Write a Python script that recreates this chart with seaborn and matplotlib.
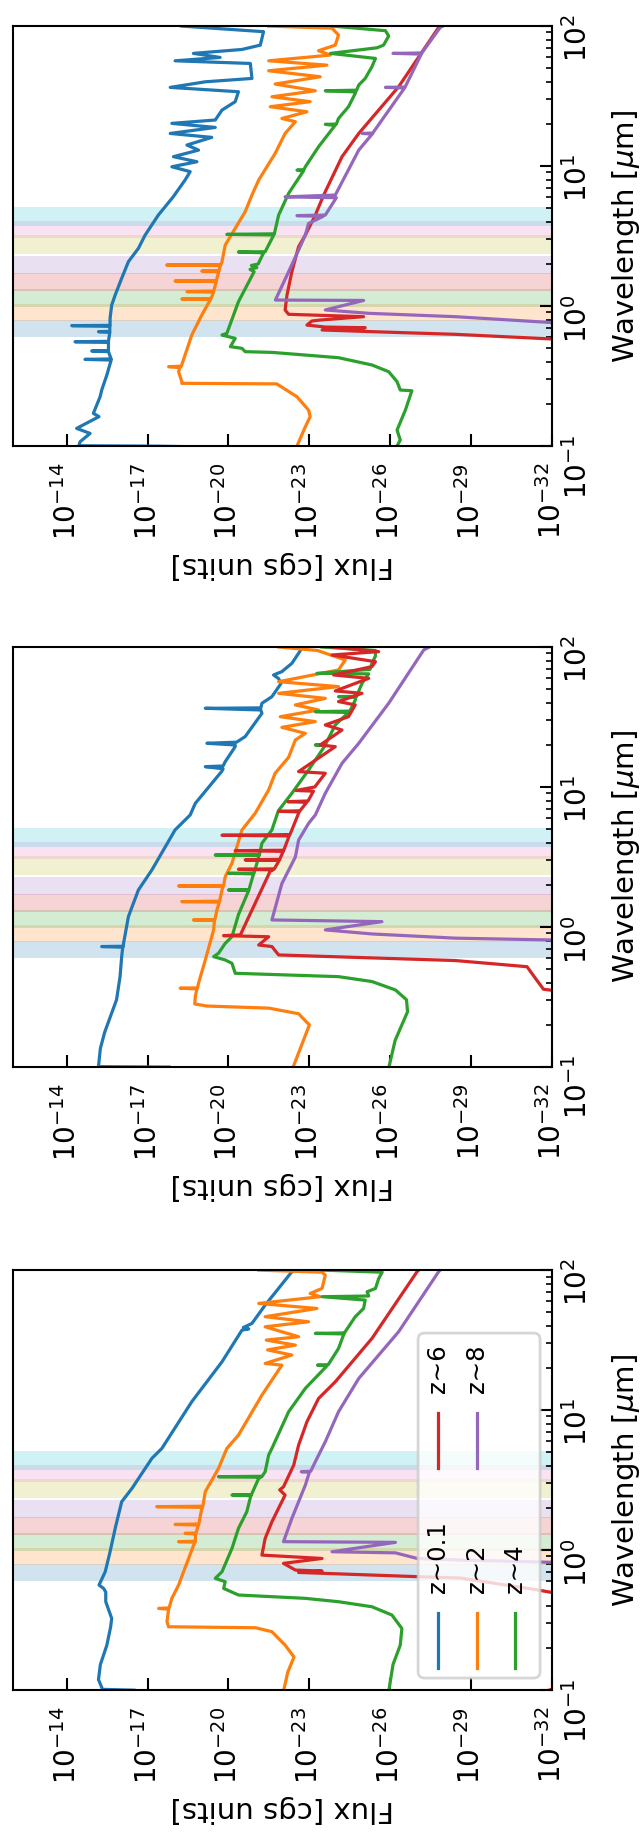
import numpy as np
import matplotlib
matplotlib.use("Agg")
import matplotlib.pyplot as plt
from matplotlib.patches import FancyBboxPatch
from matplotlib.lines import Line2D
from matplotlib.ticker import NullLocator, LogLocator
import seaborn as sns

plt.rcParams["font.family"] = ["DejaVu Sans"]
plt.rcParams["mathtext.fontset"] = "dejavusans"

# ---------------------------------------------------------------------------
# Data: every spectrum is a list of (log10 wavelength [um], log10 flux) pairs
# ---------------------------------------------------------------------------
redshift_labels = ["z\u223c0.1", "z\u223c2", "z\u223c4", "z\u223c6", "z\u223c8"]

# filter bands (wavelength limits in um)
band_lo = [0.60, 0.78, 0.98, 1.285, 1.70, 2.35, 3.05, 3.73]
band_hi = [0.80, 1.03, 1.32, 1.72, 2.28, 3.20, 4.06, 5.12]

flux_tick_exponents = [-32, -29, -26, -23, -20, -17, -14]

# ---- top panel ------------------------------------------------------------
top_z01 = [(2.000, -18.27), (1.960, -21.30), (1.864, -21.18), (1.833, -20.50), (1.805, -18.70),
           (1.776, -19.69), (1.752, -18.02), (1.733, -20.81), (1.626, -20.87), (1.602, -19.14),
           (1.562, -17.84), (1.531, -20.37), (1.460, -20.25), (1.400, -19.76), (1.329, -19.51),
           (1.305, -17.90), (1.276, -19.51), (1.233, -17.84), (1.205, -19.38), (1.150, -18.46),
           (1.114, -18.89), (1.067, -17.96), (1.031, -18.83), (0.995, -17.90), (0.960, -18.58),
           (0.900, -18.39), (0.780, -17.95), (0.650, -17.40), (0.507, -16.91), (0.412, -16.66),
           (0.317, -16.29), (0.198, -16.04), (0.079, -15.80), (0.007, -15.67), (-0.088, -15.61),
           (-0.138, -15.61), (-0.140, -14.19), (-0.145, -15.60), (-0.181, -15.60), (-0.183, -15.18),
           (-0.188, -15.60), (-0.252, -15.55), (-0.255, -14.31), (-0.260, -15.55), (-0.318, -15.55),
           (-0.321, -14.93), (-0.326, -15.55), (-0.378, -15.65), (-0.381, -14.68), (-0.386, -15.65),
           (-0.493, -15.49), (-0.600, -15.30), (-0.648, -15.24), (-0.767, -14.99), (-0.790, -15.20),
           (-0.874, -14.37), (-0.910, -14.87), (-0.969, -14.50), (-0.998, -14.45), (-1.001, -17.40),
           (-1.010, -20.00)]
top_z2 = [(2.000, -21.49), (1.985, -23.84), (1.936, -24.08), (1.864, -23.96), (1.824, -23.34),
          (1.793, -23.78), (1.752, -21.49), (1.721, -23.65), (1.681, -21.49), (1.638, -23.40),
          (1.586, -21.73), (1.538, -23.22), (1.495, -21.61), (1.460, -23.03), (1.424, -21.55),
          (1.388, -22.91), (1.340, -21.98), (1.317, -22.48), (1.233, -22.10), (1.090, -21.73),
          (0.900, -21.12), (0.793, -20.87), (0.674, -20.62), (0.555, -20.25), (0.436, -19.88),
          (0.317, -19.76), (0.296, -19.72), (0.293, -17.71), (0.289, -19.70), (0.253, -19.65),
          (0.250, -19.01), (0.246, -19.64), (0.182, -19.55), (0.179, -18.02), (0.175, -19.55),
          (0.106, -19.45), (0.103, -18.46), (0.099, -19.45), (0.053, -19.35), (0.050, -18.27),
          (0.046, -19.33), (-0.064, -19.01), (-0.207, -18.64), (-0.350, -18.39), (-0.430, -18.25),
          (-0.433, -17.78), (-0.440, -18.20), (-0.469, -18.15), (-0.540, -18.27), (-0.552, -18.27),
          (-0.556, -21.79), (-0.648, -22.54), (-0.743, -22.97), (-0.790, -23.03), (-0.862, -22.85),
          (-1.000, -22.54)]
top_z4 = [(2.000, -23.84), (1.967, -25.82), (1.929, -25.94), (1.864, -25.75), (1.845, -25.51),
          (1.805, -23.78), (1.769, -25.45), (1.710, -25.32), (1.626, -25.07), (1.579, -24.83),
          (1.542, -24.75), (1.538, -23.59), (1.530, -24.72), (1.519, -24.70), (1.424, -24.45),
          (1.340, -24.08), (1.300, -24.00), (1.298, -23.59), (1.290, -23.95), (1.138, -23.34),
          (0.995, -22.85), (0.975, -22.80), (0.971, -22.54), (0.965, -22.78), (0.805, -22.23),
          (0.650, -21.86), (0.516, -21.70), (0.512, -19.94), (0.508, -21.68), (0.388, -21.36),
          (0.386, -20.37), (0.380, -21.30), (0.300, -21.10), (0.290, -20.85), (0.275, -21.05),
          (0.262, -20.80), (0.245, -20.95), (0.031, -20.37), (-0.195, -19.94), (-0.207, -19.76),
          (-0.231, -20.25), (-0.290, -20.07), (-0.302, -20.50), (-0.326, -20.62), (-0.331, -21.61),
          (-0.369, -24.08), (-0.421, -25.32), (-0.469, -25.94), (-0.540, -26.25), (-0.600, -26.37),
          (-0.605, -26.80), (-0.743, -26.56), (-0.886, -26.25), (-0.957, -26.37), (-1.000, -26.25)]
top_z6 = [(2.000, -27.90), (1.990, -27.79), (1.567, -26.31), (1.233, -24.83), (1.067, -24.21),
          (0.793, -23.53), (0.650, -23.22), (0.507, -22.85), (0.424, -22.60), (0.245, -22.35),
          (0.079, -22.17), (-0.028, -22.10), (-0.059, -22.23), (-0.076, -25.01), (-0.100, -23.40),
          (-0.107, -23.09), (-0.136, -22.91), (-0.150, -23.59), (-0.155, -25.07), (-0.171, -23.47),
          (-0.183, -25.32), (-0.202, -28.41), (-0.240, -32.50)]
top_z8 = [(2.000, -27.95), (1.990, -27.85), (1.808, -27.17), (1.805, -26.10), (1.800, -27.15),
          (1.565, -26.55), (1.562, -25.82), (1.558, -26.53), (1.329, -25.69), (1.236, -25.35),
          (1.233, -24.95), (1.229, -25.33), (1.114, -24.83), (0.793, -23.96), (0.780, -22.10),
          (0.774, -24.00), (0.650, -23.59), (0.646, -22.54), (0.640, -23.50), (0.590, -22.97),
          (0.507, -22.85), (0.400, -22.60), (0.245, -22.23), (0.043, -21.74), (0.040, -25.01),
          (-0.028, -23.59), (-0.052, -25.20), (-0.076, -28.41), (-0.130, -33.00)]

# ---- middle panel ---------------------------------------------------------
mid_z01 = [(2.000, -22.75), (1.955, -22.60), (1.883, -22.35), (1.824, -21.98), (1.800, -21.67),
           (1.776, -21.85), (1.740, -21.95), (1.645, -21.61), (1.598, -21.24), (1.565, -21.20),
           (1.562, -19.14), (1.550, -21.20), (1.526, -21.24), (1.360, -20.62), (1.320, -20.30),
           (1.312, -19.20), (1.300, -20.25), (1.288, -20.25), (1.181, -19.88), (1.150, -19.80),
           (1.145, -19.14), (1.130, -19.80), (1.114, -19.76), (0.883, -18.77), (0.800, -18.58),
           (0.693, -18.02), (0.407, -17.16), (0.264, -16.66), (0.074, -16.29), (-0.117, -16.11),
           (-0.138, -16.10), (-0.140, -15.30), (-0.145, -16.08), (-0.212, -16.04), (-0.355, -15.98),
           (-0.520, -15.85), (-0.752, -15.41), (-0.868, -15.25), (-0.998, -15.18), (-1.001, -17.80)]
mid_z2 = [(2.000, -21.86), (1.975, -23.30), (1.907, -24.33), (1.836, -24.08), (1.752, -21.86),
          (1.717, -24.08), (1.669, -21.86), (1.633, -23.59), (1.586, -22.48), (1.550, -23.34),
          (1.502, -21.92), (1.467, -23.22), (1.426, -21.98), (1.383, -22.85), (1.336, -22.48),
          (1.212, -22.23), (1.098, -21.73), (0.979, -21.49), (0.812, -20.99), (0.693, -20.50),
          (0.455, -20.13), (0.360, -19.88), (0.296, -19.82), (0.293, -18.15), (0.289, -19.80),
          (0.264, -19.76), (0.184, -19.67), (0.181, -18.27), (0.177, -19.66), (0.121, -19.57),
          (0.053, -19.50), (0.050, -18.70), (0.046, -19.48), (-0.021, -19.45), (-0.236, -19.14),
          (-0.402, -18.89), (-0.435, -18.85), (-0.438, -18.21), (-0.442, -18.83), (-0.498, -18.77),
          (-0.550, -18.75), (-0.565, -19.20), (-0.580, -21.50), (-0.620, -22.60), (-0.700, -23.00),
          (-0.850, -22.70), (-1.000, -22.40)]
mid_z4 = [(2.000, -23.45), (1.975, -25.45), (1.936, -25.45), (1.883, -25.32), (1.840, -25.25),
          (1.812, -23.28), (1.808, -25.20), (1.740, -24.95), (1.648, -24.75), (1.645, -24.08),
          (1.640, -24.72), (1.621, -24.70), (1.542, -24.50), (1.538, -23.22), (1.532, -24.45),
          (1.443, -23.96), (1.305, -23.60), (1.300, -23.22), (1.295, -23.58), (1.121, -22.97),
          (0.955, -22.35), (0.830, -21.85), (0.693, -21.61), (0.598, -21.24), (0.517, -21.15),
          (0.514, -19.51), (0.510, -21.13), (0.500, -21.12), (0.386, -20.95), (0.383, -20.00),
          (0.379, -20.93), (0.267, -20.76), (0.264, -20.00), (0.260, -20.75), (0.088, -20.37),
          (-0.069, -20.13), (-0.117, -19.88), (-0.188, -19.63), (-0.212, -19.45), (-0.236, -19.88),
          (-0.260, -20.13), (-0.331, -20.25), (-0.355, -24.08), (-0.390, -25.32), (-0.450, -26.19),
          (-0.520, -26.60), (-0.606, -26.64), (-0.810, -26.18), (-1.000, -25.95)]
mid_z6 = [(2.000, -23.84), (1.967, -25.57), (1.943, -23.84), (1.895, -25.45), (1.860, -25.32),
          (1.800, -23.90), (1.776, -25.20), (1.686, -23.96), (1.669, -24.95), (1.610, -24.08),
          (1.586, -24.70), (1.502, -24.45), (1.443, -23.59), (1.407, -24.21), (1.300, -23.40),
          (1.288, -23.96), (1.110, -22.60), (1.098, -23.59), (1.000, -23.20), (0.975, -22.50),
          (0.970, -23.15), (0.900, -22.95), (0.895, -22.20), (0.890, -22.90), (0.830, -22.65),
          (0.826, -21.86), (0.822, -22.62), (0.693, -22.35), (0.660, -22.28), (0.655, -19.76),
          (0.650, -22.25), (0.548, -22.05), (0.545, -20.25), (0.540, -22.03), (0.483, -21.90),
          (0.479, -20.62), (0.475, -21.88), (0.415, -21.70), (0.412, -20.37), (0.408, -21.65),
          (0.400, -21.55), (-0.057, -20.44), (-0.062, -19.82), (-0.070, -21.49), (-0.129, -21.12),
          (-0.140, -21.61), (-0.200, -21.86), (-0.240, -28.41), (-0.284, -31.07), (-0.372, -31.40),
          (-0.445, -31.68), (-0.460, -32.30)]
mid_z8 = [(2.000, -27.45), (1.979, -27.24), (1.598, -25.94), (1.312, -24.83), (1.169, -24.21),
          (0.955, -23.59), (0.800, -23.22), (0.740, -22.97), (0.620, -22.60), (0.500, -22.48),
          (0.310, -21.98), (0.050, -21.61), (0.038, -25.69), (-0.021, -23.59), (-0.050, -25.32),
          (-0.080, -28.41), (-0.095, -32.50)]

# ---- bottom panel ---------------------------------------------------------
bot_z01 = [(2.000, -22.45), (1.988, -22.35), (1.750, -21.36), (1.619, -20.87), (1.590, -20.55),
           (1.580, -20.75), (1.571, -20.50), (1.345, -19.76), (1.060, -18.64), (0.726, -17.53),
           (0.655, -17.16), (0.440, -16.42), (0.345, -16.04), (0.155, -15.80), (-0.012, -15.61),
           (-0.155, -15.43), (-0.250, -15.20), (-0.274, -15.37), (-0.300, -15.45), (-0.369, -15.45),
           (-0.488, -15.67), (-0.550, -15.63), (-0.680, -15.49), (-0.818, -15.25), (-0.925, -15.18),
           (-0.995, -15.33), (-1.001, -16.50)]
bot_z2 = [(2.000, -21.12), (1.985, -23.47), (1.964, -23.59), (1.869, -23.47), (1.833, -23.03),
          (1.810, -23.40), (1.762, -21.12), (1.726, -23.28), (1.667, -21.36), (1.631, -22.97),
          (1.595, -21.36), (1.524, -22.60), (1.500, -21.40), (1.464, -22.48), (1.430, -21.45),
          (1.393, -22.35), (1.333, -21.36), (1.321, -21.98), (1.107, -21.24), (0.821, -20.37),
          (0.726, -19.94), (0.583, -19.63), (0.417, -19.14), (0.313, -19.05), (0.310, -17.34),
          (0.305, -19.03), (0.298, -19.01), (0.186, -18.90), (0.183, -18.02), (0.179, -18.88),
          (0.122, -18.80), (0.119, -18.39), (0.115, -18.78), (0.063, -18.77), (0.060, -18.15),
          (0.056, -18.76), (0.031, -18.70), (-0.250, -18.15), (-0.345, -17.90), (-0.413, -17.80),
          (-0.417, -17.41), (-0.422, -17.78), (-0.512, -17.72), (-0.548, -17.78), (-0.555, -21.00),
          (-0.583, -21.61), (-0.679, -22.10), (-0.764, -22.43), (-0.871, -22.20), (-1.000, -22.05)]
bot_z4 = [(2.000, -23.47), (1.985, -25.70), (1.940, -25.57), (1.869, -25.45), (1.845, -25.14),
          (1.815, -25.20), (1.810, -23.47), (1.786, -25.07), (1.726, -25.01), (1.667, -24.70),
          (1.560, -24.33), (1.551, -24.30), (1.548, -23.22), (1.544, -24.28), (1.440, -24.08),
          (1.325, -23.70), (1.321, -23.30), (1.316, -23.65), (1.155, -22.85), (0.988, -22.23),
          (0.726, -21.61), (0.679, -21.49), (0.560, -21.36), (0.527, -21.25), (0.524, -19.63),
          (0.520, -21.20), (0.512, -21.12), (0.396, -20.85), (0.393, -20.13), (0.389, -20.83),
          (0.274, -20.68), (0.155, -20.37), (0.012, -20.13), (-0.155, -19.76), (-0.202, -19.51),
          (-0.226, -19.88), (-0.274, -19.82), (-0.321, -20.37), (-0.345, -22.85), (-0.369, -24.08),
          (-0.405, -25.32), (-0.464, -26.06), (-0.560, -26.43), (-0.679, -26.37), (-0.818, -26.10),
          (-1.000, -25.95)]
bot_z6 = [(2.000, -27.05), (1.988, -26.99), (1.512, -25.32), (1.202, -23.96), (1.083, -23.34),
          (0.917, -22.91), (0.750, -22.60), (0.607, -22.42), (0.452, -22.04), (0.430, -21.90),
          (0.393, -22.10), (0.202, -21.61), (0.083, -21.36), (-0.036, -21.24), (-0.060, -23.47),
          (-0.095, -22.04), (-0.143, -22.48), (-0.150, -23.47), (-0.160, -22.60), (-0.190, -27.00),
          (-0.200, -28.60), (-0.282, -31.37), (-0.310, -32.20), (-0.900, -33.50), (-1.000, -31.90)]
bot_z8 = [(2.000, -27.85), (1.988, -27.79), (1.560, -26.31), (1.226, -24.83), (0.988, -24.08),
          (0.774, -23.59), (0.631, -23.22), (0.563, -23.05), (0.560, -22.70), (0.556, -23.00),
          (0.464, -22.85), (0.345, -22.60), (0.226, -22.35), (0.060, -22.04), (0.055, -26.19),
          (-0.012, -23.84), (-0.020, -26.19), (-0.060, -27.00), (-0.071, -28.60), (-0.090, -32.50)]

top_panel = [top_z01, top_z2, top_z4, top_z6, top_z8]
mid_panel = [mid_z01, mid_z2, mid_z4, mid_z6, mid_z8]
bot_panel = [bot_z01, bot_z2, bot_z4, bot_z6, bot_z8]

# ---------------------------------------------------------------------------
palette = sns.color_palette("tab10")
line_colors = [palette[i] for i in range(5)]
band_colors = [palette[i] for i in (0, 1, 2, 3, 4, 8, 6, 9)]

TICK_FS = 20
LABEL_FS = 21
LINE_W = 2.3

fig = plt.figure(figsize=(6.42, 18.37), dpi=100)
panel_rects = [[0.0198, 0.7572, 0.8402, 0.2286],
               [0.0198, 0.4192, 0.8402, 0.2286],
               [0.0198, 0.0800, 0.8402, 0.2286]]

axes = []
for rect, curves in zip(panel_rects, [top_panel, mid_panel, bot_panel]):
    ax = fig.add_axes(rect)
    ax.set_xscale("log")
    ax.set_yscale("log")

    for lo, hi, c in zip(band_lo, band_hi, band_colors):
        ax.axhspan(lo, hi, color=c, alpha=0.2, lw=0, zorder=0)

    for curve, c in zip(curves, line_colors):
        log_wl, log_flux = np.array(curve).T
        sns.lineplot(x=10.0 ** log_flux, y=10.0 ** log_wl, sort=False, estimator=None,
                     color=c, lw=LINE_W, ax=ax, zorder=2)

    ax.set_xlim(1e-12, 1e-32)
    ax.set_ylim(0.1, 100)

    ax.set_xticks([10.0 ** e for e in flux_tick_exponents])
    ax.xaxis.set_minor_locator(NullLocator())
    ax.yaxis.tick_right()
    ax.yaxis.set_label_position("right")
    ax.yaxis.set_major_locator(LogLocator(base=10))
    ax.yaxis.set_minor_locator(LogLocator(base=10, subs=np.arange(2, 10)))

    ax.tick_params(axis="x", which="major", direction="in", length=9, width=1.5,
                   labelsize=TICK_FS, labelrotation=90, pad=12, bottom=True, top=False)
    ax.tick_params(axis="y", which="major", direction="in", length=9, width=1.5,
                   labelsize=TICK_FS, labelrotation=90, pad=8, left=False, right=True)
    ax.tick_params(axis="y", which="minor", direction="in", length=4.5, width=1.2,
                   left=False, right=True)
    for spine in ax.spines.values():
        spine.set_linewidth(1.5)
        spine.set_color("black")

    ax.set_xlabel("Flux [cgs units]", fontsize=LABEL_FS, rotation=180, labelpad=8)
    ax.set_ylabel("Wavelength [$\\mu$m]", fontsize=LABEL_FS, labelpad=12)
    axes.append(ax)

# ---- legend of the bottom panel, laid out along the rotated frame ---------
lax = axes[2]
box = FancyBboxPatch((0.7515, 0.0286), 0.2262, 0.8214,
                     boxstyle="round,pad=0,rounding_size=0.012", mutation_aspect=1.28,
                     transform=lax.transAxes, facecolor=(1, 1, 1, 0.8),
                     edgecolor=(0.8, 0.8, 0.8, 0.8), lw=2, zorder=5)
lax.add_patch(box)

row_x = [0.789, 0.860, 0.931]
entries = [(0, row_x[0], 0), (1, row_x[1], 0), (2, row_x[2], 0),
           (3, row_x[0], 1), (4, row_x[1], 1)]
handle_span = [(0.0524, 0.1833), (0.5298, 0.6602)]
text_start = [0.231, 0.707]
for idx, x, col in entries:
    y0, y1 = handle_span[col]
    lax.add_line(Line2D([x, x], [y0, y1], transform=lax.transAxes,
                        color=line_colors[idx], lw=LINE_W, zorder=6))
    lax.text(x, text_start[col], redshift_labels[idx], transform=lax.transAxes,
             rotation=90, ha="center", va="bottom", fontsize=17.6, zorder=6)

fig.savefig("out.png", dpi=100)
